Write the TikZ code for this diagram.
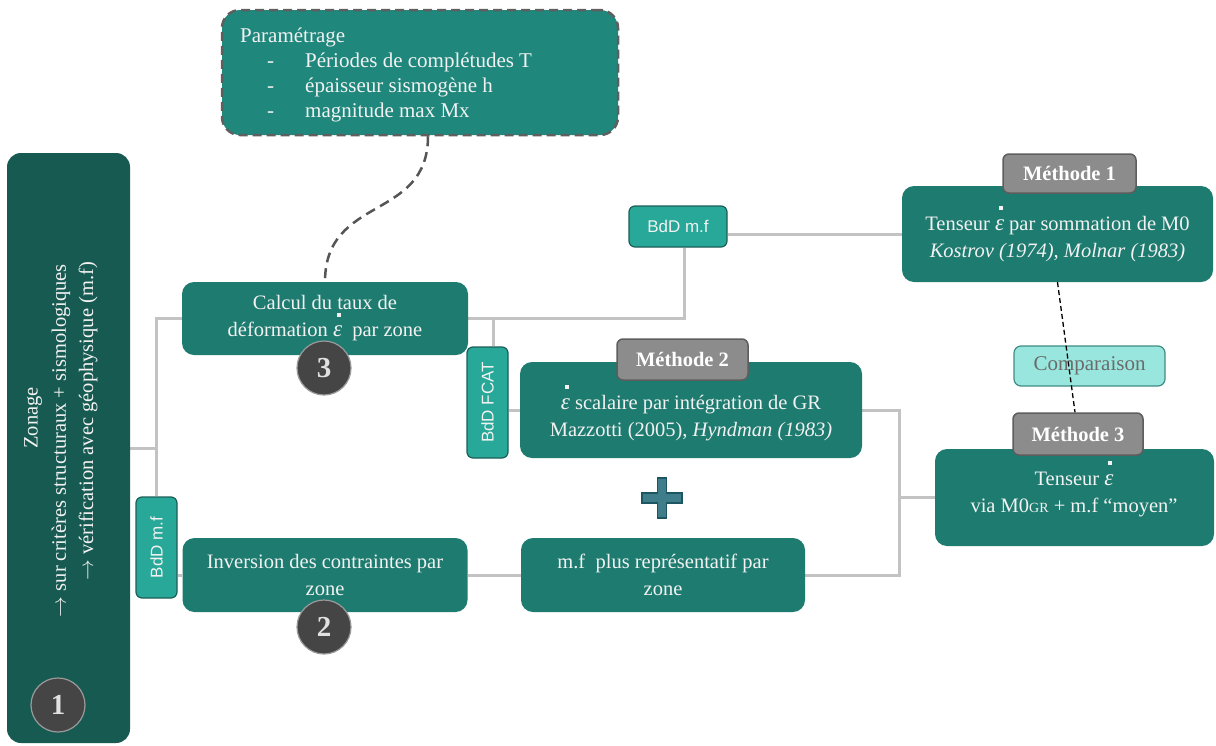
\documentclass[tikz,border=0pt]{standalone}
\usepackage{fontspec}
\usepackage{amsmath}
\setmainfont{Liberation Serif}
\setsansfont{Liberation Sans}
\usetikzlibrary{calc}
\pgfdeclarelayer{background}
\pgfsetlayers{background,main}
\definecolor{zonefill}{HTML}{175A51}
\definecolor{boxfill}{HTML}{1E7B6F}
\definecolor{paramfill}{HTML}{1F877B}
\definecolor{bddfill}{HTML}{27A898}
\definecolor{bddline}{HTML}{1B5E56}
\definecolor{labfill}{HTML}{8C8C8C}
\definecolor{labline}{HTML}{5D5D5D}
\definecolor{circfill}{HTML}{454545}
\definecolor{circline}{HTML}{9A9A9A}
\definecolor{compfill}{HTML}{98E6DD}
\definecolor{compline}{HTML}{3F8C83}
\definecolor{comptext}{HTML}{6B6B6B}
\definecolor{conn}{HTML}{C3C3C3}
\definecolor{plusfill}{HTML}{3E7D89}
\definecolor{plusline}{HTML}{1D5560}
\definecolor{txt}{HTML}{F2F2F2}
\newcommand{\epsd}{{\fontsize{23}{26}\selectfont\itshape ε}\llap{\raisebox{20pt}{\rule{3.8pt}{3.8pt}}\hspace{1.5pt}}}
\newcommand{\arr}{$\rightarrow$}
\tikzset{
  mainbox/.style={fill=boxfill, rounded corners=12pt, inner sep=0pt, text=txt, align=center,
     font=\fontsize{20.5}{27}\selectfont},
  bddbox/.style={fill=bddfill, draw=bddline, line width=1.2pt, rounded corners=6pt, inner sep=0pt,
     text=txt, font=\sffamily\fontsize{17}{20}\selectfont},
  bddtext/.style={rotate=90, text=txt, inner sep=0pt, font=\sffamily\fontsize{17}{20}\selectfont},
  methlab/.style={fill=labfill, draw=labline, line width=1.5pt, rounded corners=6pt, inner sep=0pt,
     text=white, font=\bfseries\fontsize{20.5}{22}\selectfont},
  numcirc/.style={circle, fill=circfill, draw=circline, line width=1.2pt, minimum size=54pt, inner sep=0pt,
     text={rgb,255:red,225;green,225;blue,225}, font=\bfseries\fontsize{29}{30}\selectfont},
  connector/.style={draw=conn, line width=3pt},
  txtnode/.style={text=txt, align=center, inner sep=0pt, font=\fontsize{20.5}{27}\selectfont},
}
\begin{document}
\begin{tikzpicture}[x=1pt,y=-1pt]
\useasboundingbox (0,0) rectangle (1216,745);

% boxes
\node[fill=zonefill, rounded corners=14pt, minimum width=123pt, minimum height=590pt, inner sep=0pt] (zone) at (68.5,448) {};
\node[rotate=90, txtnode] (zt1) at (33,418) {Zonage};
\node[rotate=90, txtnode, anchor=east] (zt2) at (61,264) {\arr{} sur critères structuraux + sismologiques};
\node[rotate=90, txtnode, anchor=east] (zt3) at (88,262) {\arr{} vérification avec géophysique (m.f)};

\node[fill=paramfill, draw={rgb,255:red,95;green,95;blue,95}, line width=2.5pt, dash pattern=on 9pt off 5pt,
      rounded corners=18pt, minimum width=396pt, minimum height=125pt, inner sep=0pt] (param) at (420,72.5) {};
\node[text=txt, align=left, anchor=north west, inner sep=0pt, font=\fontsize{21}{25}\selectfont] (paramtxt) at (240,28)
 {Paramétrage\\
  \hspace*{27pt}\makebox[38pt][l]{-}Périodes de complétudes T\\
  \hspace*{27pt}\makebox[38pt][l]{-}épaisseur sismogène h\\
  \hspace*{27pt}\makebox[38pt][l]{-}magnitude max Mx};

\node[mainbox, minimum width=286pt, minimum height=73pt] (calc) at (325,318.5)
  {Calcul du taux de\\déformation \epsd{}\ \ par zone};
\node[mainbox, minimum width=285pt, minimum height=74pt] (inv) at (325,575)
  {Inversion des contraintes par\\zone};
\node[mainbox, minimum width=284pt, minimum height=74pt] (mf) at (663,575)
  {m.f\ \ plus représentatif par\\zone};
\node[mainbox, minimum width=342pt, minimum height=96pt] (m2) at (691,410) {};
\node[txtnode] (m2t) at (691,413) {\epsd{} scalaire par intégration de GR\\Mazzotti (2005), \textit{Hyndman (1983)}};
\node[mainbox, minimum width=311pt, minimum height=96pt] (m1) at (1057.5,234)
  {Tenseur \epsd{} par sommation de M0\\\textit{Kostrov (1974), Molnar (1983)}};
\node[mainbox, minimum width=279pt, minimum height=97pt] (m3) at (1074.5,497.5) {};
\node[txtnode] (m3t) at (1074,489) {Tenseur \epsd\\via M0{\fontsize{14}{14}\selectfont GR} + m.f “moyen”};

\node[bddbox, minimum width=41pt, minimum height=101pt] (bdd1) at (156.5,547.5) {};
\node[bddtext] (bdd1t) at (bdd1) {BdD m.f};
\node[bddbox, minimum width=41pt, minimum height=111pt] (fcat) at (487.5,402.5) {};
\node[bddtext] (fcatt) at (fcat) {BdD FCAT};
\node[bddbox, minimum width=98pt, minimum height=41pt] (bdd2) at (678,226.5) {BdD m.f};

\node[fill=compfill, draw=compline, line width=1.2pt, rounded corners=7pt, minimum width=151pt, minimum height=40pt,
      inner sep=0pt, text=comptext, font=\fontsize{21}{22}\selectfont] (comp) at (1089.5,366) {Comparaison};

% connectors behind boxes
\begin{pgfonlayer}{background}
\path (zone.east) ++(26,0) coordinate (jl);
\draw[connector] (zone.east) -- (jl);
\draw[connector] (calc.west) -| (bdd1.north);
\draw[connector] (bdd1.east |- inv.west) -- (inv.west);
\draw[connector] (calc.east) -| ([xshift=6pt]bdd2.south);
\draw[connector] (bdd2.east |- m1.west) -- (m1.west);
\draw[connector] ([xshift=5.5pt]fcat.north) -- ([xshift=5.5pt]fcat.north |- calc.east);
\draw[connector] (fcat.east |- m2.west) -- (m2.west);
\coordinate (jr) at (899,497.5);
\draw[connector] (m2.east) -| (jr) |- (mf.east);
\draw[connector] (jr) -- (m3.west);
\draw[connector] (inv.east) -- (mf.west);
\end{pgfonlayer}

% method labels
\node[methlab, minimum width=133pt, minimum height=39pt] (m1lab) at (1069.5,173.5) {Méthode 1};
\node[methlab, minimum width=131pt, minimum height=41pt] (m2lab) at (682.5,359.5) {Méthode 2};
\node[methlab, minimum width=130pt, minimum height=42pt] (m3lab) at (1078,434) {Méthode 3};

% dashed links
\draw[draw={rgb,255:red,85;green,85;blue,85}, line width=2.5pt, dash pattern=on 10pt off 6pt]
  ([xshift=8pt]param.south) .. controls +(0,85) and +(0,-87) .. (calc.north);
\draw[black, line width=1.3pt, dash pattern=on 5pt off 3pt] (m1.south) -- ([xshift=-3pt]m3lab.north);

% plus sign
\node[inner sep=0pt, minimum size=40pt] (plus) at (662,498) {};
\draw[fill=plusfill, draw=plusline, line width=1.2pt]
  ($(plus)+(-4.5,-20)$) -- ($(plus)+(4.5,-20)$) -- ($(plus)+(4.5,-5)$) -- ($(plus)+(20,-5)$) --
  ($(plus)+(20,5)$) -- ($(plus)+(4.5,5)$) -- ($(plus)+(4.5,20)$) -- ($(plus)+(-4.5,20)$) --
  ($(plus)+(-4.5,5)$) -- ($(plus)+(-20,5)$) -- ($(plus)+(-20,-5)$) -- ($(plus)+(-4.5,-5)$) -- cycle;

% numbered circles
\node[numcirc] (c1) at (58,705) {1};
\node[numcirc] (c2) at (324,627) {2};
\node[numcirc] (c3) at (324,368) {3};
\end{tikzpicture}
\end{document}
